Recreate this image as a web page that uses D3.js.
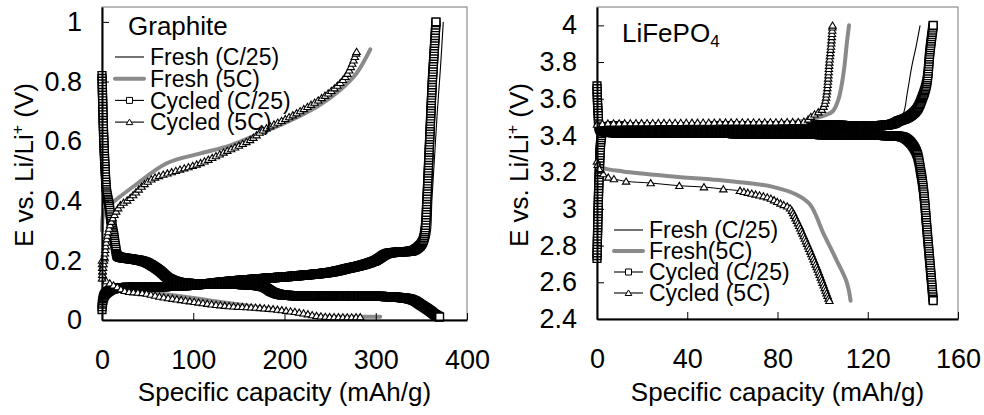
<!DOCTYPE html>
<html>
<head>
<meta charset="utf-8">
<script src="https://cdn.jsdelivr.net/npm/d3@7"></script>
<style>
  body { margin: 0; background: #fff; }
  svg text { font-family: "Liberation Sans", Arial, sans-serif; fill: #000; }
</style>
</head>
<body>
<svg id="chart" width="984" height="415"></svg>
<script>
// ---- graphite half-cell, [capacity mAh/g, E V] ----
var gFreshC25Lith = [[0,0.8],[1,0.68],[2,0.58],[3.5,0.5],[5,0.43],[8,0.37],[10,0.33],[13,0.28],[15,0.24],[17,0.215],[22,0.209],[29,0.206],[47,0.195],[62,0.168],[73,0.14],[84,0.127],[100,0.122],[130,0.12],[165,0.117],[180,0.11],[188,0.095],[200,0.085],[250,0.082],[320,0.078],[340,0.07],[352,0.05],[362,0.025],[369,0.01]];
var gFreshC25Delith = [[0,0.035],[0.5,0.06],[3,0.085],[9,0.1],[16,0.107],[50,0.11],[100,0.118],[140,0.13],[180,0.14],[213,0.148],[250,0.158],[270,0.17],[290,0.185],[304,0.205],[315,0.222],[335,0.228],[350,0.235],[357,0.26],[360,0.3],[361.5,0.4],[364.5,0.55],[367.5,0.7],[371,0.85],[374,1.0]];
var gFresh5CLith = [[0,0.19],[1,0.15],[4,0.13],[10,0.12],[20,0.108],[35,0.1],[60,0.09],[90,0.078],[120,0.065],[150,0.052],[180,0.04],[213,0.022],[242,0.013],[270,0.011],[305,0.011]];
var gFresh5CDelith = [[0,0.3],[1,0.35],[4,0.375],[11,0.393],[34,0.447],[71,0.526],[107,0.558],[140,0.585],[162,0.612],[200,0.66],[236,0.716],[261,0.772],[279,0.828],[294,0.908]];
var gCycC25Lith = [[0,0.82],[1,0.7],[2,0.6],[3.5,0.5],[5,0.43],[8,0.38],[10,0.33],[13,0.28],[15,0.24],[17,0.215],[22,0.209],[29,0.206],[47,0.195],[62,0.168],[73,0.14],[84,0.127],[100,0.122],[130,0.12],[165,0.117],[178,0.11],[186,0.095],[196,0.085],[250,0.081],[320,0.077],[340,0.068],[350,0.05],[358,0.034],[365,0.018],[370,0.01]];
var gCycC25Delith = [[0,0.035],[0.5,0.058],[3,0.085],[9,0.1],[16,0.107],[50,0.11],[100,0.117],[140,0.13],[180,0.14],[213,0.148],[250,0.16],[268,0.172],[286,0.185],[300,0.2],[312,0.222],[325,0.228],[340,0.232],[345,0.24],[351,0.26],[354,0.3],[356,0.4],[359,0.6],[362,0.8],[364,0.9],[366,1.0]];
var gCyc5CLith = [[0,0.2],[0.5,0.16],[1.5,0.14],[8.8,0.123],[16,0.112],[25,0.098],[47,0.09],[65,0.078],[84,0.069],[102,0.061],[118,0.054],[140,0.047],[177,0.04],[213,0.027],[242,0.012],[283,0.01]];
var gCyc5CDelith = [[0,0.14],[1,0.17],[3,0.22],[5,0.268],[8,0.31],[11,0.336],[20,0.385],[29,0.405],[52.6,0.47],[80,0.5],[107,0.526],[135,0.565],[162,0.604],[177,0.638],[213,0.694],[250,0.766],[268,0.822],[279,0.9]];

// ---- LiFePO4 half-cell ----
var lFreshC25Cha = [[0,3.0],[0.5,3.3],[1.5,3.42],[4,3.44],[40,3.448],[90,3.455],[125,3.46],[133,3.47],[135.8,3.52],[137.5,3.63],[139.5,3.775],[141.5,3.89],[143.2,4.0]];
var lFreshC25Dis = [[0,3.6],[0.5,3.48],[1.5,3.42],[5,3.415],[40,3.41],[80,3.405],[110,3.4],[130,3.395],[135.8,3.385],[139,3.35],[141.7,3.3],[143.5,3.2],[144.7,3.1],[146.5,2.85],[148.5,2.52]];
var lFresh5CCha = [[0,3.3],[0.5,3.38],[1.5,3.43],[5,3.445],[40,3.455],[80,3.468],[92,3.48],[97.4,3.496],[101,3.51],[104.5,3.532],[107,3.596],[108.5,3.68],[109.7,3.78],[110.7,3.9],[111.7,4.0]];
var lFresh5CDis = [[0,3.34],[0.5,3.27],[1.5,3.235],[2.7,3.223],[11.5,3.204],[33.7,3.177],[56,3.155],[67.8,3.14],[78,3.12],[88.5,3.077],[94.5,3.023],[100.3,2.868],[106.2,2.72],[110.7,2.6],[112.4,2.5]];
var lCycC25Cha = [[0,2.73],[0.5,3.0],[1,3.2],[2,3.4],[3,3.44],[20,3.445],[60,3.45],[100,3.455],[130,3.46],[134,3.48],[138,3.5],[141.7,3.54],[144,3.6],[146.1,3.685],[147.6,3.865],[149,4.0]];
var lCycC25Dis = [[0,3.67],[0.5,3.52],[1.5,3.43],[5,3.418],[40,3.413],[80,3.408],[110,3.403],[130,3.398],[135.8,3.39],[139,3.36],[141.7,3.305],[143.5,3.2],[144.7,3.1],[146.5,2.85],[149,2.5]];
var lCyc5CCha = [[0,3.46],[3,3.465],[20,3.468],[60,3.472],[85,3.474],[92.6,3.48],[95,3.505],[97.4,3.523],[99.6,3.54],[101,3.578],[102,3.65],[103,3.8],[103.8,3.9],[104.4,4.0]];
var lCyc5CDisA = [[0,3.259],[0.3,3.241],[1.0,3.218],[2.8,3.19],[5.0,3.172],[7.5,3.163],[12.9,3.15],[23.8,3.141],[36.5,3.126],[47.4,3.119],[56,3.108],[63.4,3.099]];
var lCyc5CDisB = [[63.4,3.099],[67.8,3.086],[73,3.072],[76.7,3.059],[79.7,3.04],[82.6,3.023],[85.5,3.005],[88,2.95],[91,2.87],[97.5,2.68],[103,2.5]];

// ---- ticks ----
var gXTicks = [0, 100, 200, 300, 400];
var gYTicks = [0, 0.2, 0.4, 0.6, 0.8, 1];
var lXTicks = [0, 40, 80, 120, 160];
var lYTicks = [2.4, 2.6, 2.8, 3, 3.2, 3.4, 3.6, 3.8, 4];

var gLegend = ["Fresh (C/25)", "Fresh (5C)", "Cycled (C/25)", "Cycled (5C)"];
var lLegend = ["Fresh (C/25)", "Fresh(5C)", "Cycled (C/25)", "Cycled (5C)"];
var legendKinds = ["thin", "gray", "sq", "tri"];

var svg = d3.select("#chart");
var SQ = "M-3.9,-3.9H3.9V3.9H-3.9Z";
var TRI = "M0,-3.4L3.7,2.8L-3.7,2.8Z";

//walk along the drawn path and drop a marker whenever we moved far enough
function sampleMarks(node, gx, gy){
    var len = node.getTotalLength();
    var last = node.getPointAtLength(0);
    var pts = [[last.x, last.y]];
    for (var s = 0.2; s < len; s += 0.2){
        var p = node.getPointAtLength(s);
        var dx = (p.x - last.x) / gx, dy = (p.y - last.y) / gy;
        if (dx * dx + dy * dy >= 1){ pts.push([p.x, p.y]); last = p; }
    }
    var e = node.getPointAtLength(len);
    pts.push([e.x, e.y]);
    return pts;
}

function drawPanel(opt){
    var g = svg.append("g");
    var x = d3.scaleLinear().domain(opt.xDomain).range([opt.left, opt.right]);
    var y = d3.scaleLinear().domain(opt.yDomain).range([opt.bottom, opt.top]);

    g.append("rect")
        .attr("x", opt.left).attr("y", opt.top)
        .attr("width", opt.right - opt.left).attr("height", opt.bottom - opt.top)
        .attr("fill", "none").attr("stroke", "#777").attr("stroke-width", 1);

    var line = d3.line().x(function(d){ return x(d[0]); }).y(function(d){ return y(d[1]); })
        .curve(d3.curveCatmullRom.alpha(0.5));
    var lines = g.append("g");

    opt.series.forEach(function(s){
        var path = lines.append("path").datum(s.data).attr("d", line).attr("fill", "none");
        if (s.kind == "gray"){
            path.attr("stroke", "#8a8a8a").attr("stroke-width", 4).attr("stroke-linecap", "round");
            return;
        }
        path.attr("stroke", "#000").attr("stroke-width", s.kind == "thin" ? 1.1 : 1);
        if (s.kind == "thin") return;
        var pts = s.gap ? sampleMarks(path.node(), s.gap[0], s.gap[1])
                        : s.data.map(function(d){ return [x(d[0]), y(d[1])]; });
        lines.append("g").selectAll("path").data(pts).enter().append("path")
            .attr("d", s.kind == "sq" ? SQ : TRI)
            .attr("transform", function(d){ return "translate(" + d[0] + "," + d[1] + ")"; })
            .attr("fill", "#fff").attr("stroke", "#000")
            .attr("stroke-width", s.kind == "sq" ? 1.4 : 1.1);
    });

    // axes, ticks pointing inward
    var xAxis = g.append("g").attr("transform", "translate(0," + opt.bottom + ")")
        .call(d3.axisBottom(x).tickValues(opt.xTicks).tickSizeInner(-7).tickSizeOuter(0).tickPadding(30).tickFormat(d3.format("~g")));
    var yAxis = g.append("g").attr("transform", "translate(" + opt.left + ",0)")
        .call(d3.axisLeft(y).tickValues(opt.yTicks).tickSizeInner(-7).tickSizeOuter(0).tickPadding(20).tickFormat(d3.format("~g")));
    [xAxis, yAxis].forEach(function(a){
        a.attr("font-family", null).attr("font-size", null);
        a.select(".domain").attr("stroke", "#000").attr("stroke-width", 2);
        a.selectAll(".tick line").attr("stroke", "#000").attr("stroke-width", 1);
        a.selectAll(".tick text").attr("fill", "#000").style("font-size", "27px");
    });

    g.append("text")
        .attr("x", (opt.left + opt.right) / 2).attr("y", 401)
        .attr("text-anchor", "middle").style("font-size", "26px")
        .text("Specific capacity (mAh/g)");

    var yl = g.append("text")
        .attr("transform", "translate(" + opt.yLabelX + ",165) rotate(-90)")
        .attr("text-anchor", "middle").style("font-size", "26px");
    yl.append("tspan").text("E vs. Li/Li");
    yl.append("tspan").attr("dy", -10).style("font-size", "16px").text("+");
    yl.append("tspan").attr("dy", 10).text(" (V)");

    // legend
    var lg = g.append("g");
    opt.legend.forEach(function(name, i){
        var cy = opt.legY + i * opt.legStep, kind = legendKinds[i];
        var ln = lg.append("line").attr("x1", opt.legX).attr("x2", opt.legX + 29)
            .attr("y1", cy).attr("y2", cy);
        if (kind == "gray") ln.attr("stroke", "#8a8a8a").attr("stroke-width", 4).attr("stroke-linecap", "round");
        else ln.attr("stroke", "#000").attr("stroke-width", 1.1);
        if (kind == "sq" || kind == "tri"){
            lg.append("path").attr("d", kind == "sq" ? "M-3,-3H3V3H-3Z" : "M0,-3L3.3,2.5L-3.3,2.5Z")
                .attr("transform", "translate(" + (opt.legX + 14.5) + "," + cy + ")")
                .attr("fill", "#fff").attr("stroke", "#000").attr("stroke-width", 1);
        }
        lg.append("text").attr("x", opt.legX + 35).attr("y", cy + 8.3)
            .style("font-size", "23px").text(name);
    });
    return g;
}

var gPanel = drawPanel({
    left: 102, right: 467, top: 7, bottom: 320,
    xDomain: [0, 400], yDomain: [0, 1.05],
    xTicks: gXTicks, yTicks: gYTicks, yLabelX: 33,
    legend: gLegend, legX: 115, legY: 57, legStep: 21.7,
    series: [
        {data: gFreshC25Lith, kind: "thin"},
        {data: gFreshC25Delith, kind: "thin"},
        {data: gFresh5CLith, kind: "gray"},
        {data: gFresh5CDelith, kind: "gray"},
        {data: gCycC25Lith, kind: "sq", gap: [0.4, 2.7]},
        {data: gCycC25Delith, kind: "sq", gap: [0.4, 2.7]},
        {data: gCyc5CLith, kind: "tri", gap: [4.3, 3.5]},
        {data: gCyc5CDelith, kind: "tri", gap: [4.3, 3.5]}
    ]
});
gPanel.append("text").attr("x", 128).attr("y", 34.5).style("font-size", "26px").text("Graphite");

var lPanel = drawPanel({
    left: 597, right: 958, top: 7, bottom: 319,
    xDomain: [0, 160], yDomain: [2.4, 4.1],
    xTicks: lXTicks, yTicks: lYTicks, yLabelX: 528,
    legend: lLegend, legX: 614, legY: 230, legStep: 21,
    series: [
        {data: lFreshC25Cha, kind: "thin"},
        {data: lFreshC25Dis, kind: "thin"},
        {data: lFresh5CCha, kind: "gray"},
        {data: lFresh5CDis, kind: "gray"},
        {data: lCycC25Cha, kind: "sq", gap: [0.4, 2.7]},
        {data: lCycC25Dis, kind: "sq", gap: [0.4, 2.7]},
        {data: lCyc5CCha, kind: "tri", gap: [5.5, 3]},
        {data: lCyc5CDisA, kind: "tri"},
        {data: lCyc5CDisB, kind: "tri", gap: [4, 2.6]}
    ]
});
var lt = lPanel.append("text").attr("x", 622).attr("y", 41.5).style("font-size", "26px");
lt.append("tspan").text("LiFePO");
lt.append("tspan").attr("dy", 5).style("font-size", "17px").text("4");
</script>
</body>
</html>
